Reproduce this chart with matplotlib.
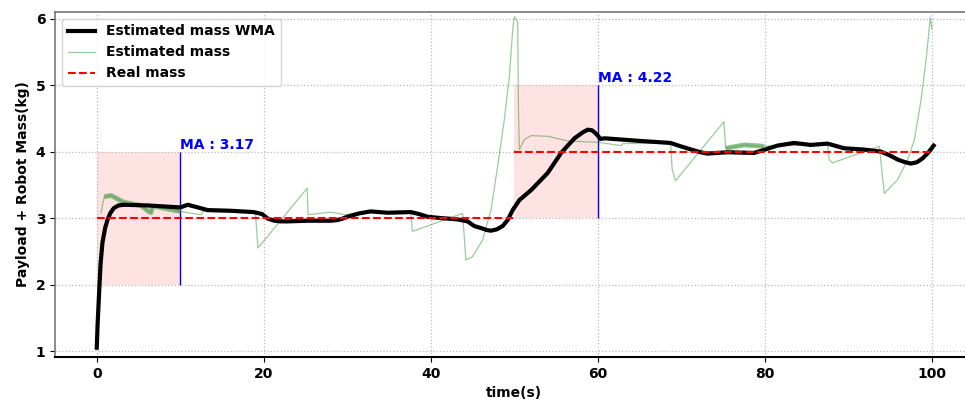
import numpy as np
import matplotlib
matplotlib.use("Agg")
import matplotlib.pyplot as plt

# weighted moving average of the estimate
wma_t = [0, 0.1, 0.28, 0.45, 0.68, 1.0, 1.28, 1.6, 2.04, 2.6, 3.23, 6.1, 10.0, 10.9, 13.3,
         16.0, 18.8, 19.8, 20.5, 21.3, 22.0, 22.9, 25.2, 28.0, 28.8, 29.4, 30.0, 31.4,
         32.8, 34.8, 37.6, 38.6, 39.6, 41.2, 43.2, 44.4, 45.2, 46.0, 46.7, 47.2, 47.9,
         48.6, 49.2, 49.8, 50.6, 52.0, 54.0, 55.6, 57.2, 58.2, 58.8, 59.3, 59.6, 60.0,
         60.3, 60.8, 65.1, 68.7, 69.9, 71.2, 72.3, 73.1, 75.5, 78.7, 80.0, 81.5, 83.5,
         85.5, 87.5, 89.5, 91.9, 93.9, 95.0, 95.9, 96.8, 97.5, 98.2, 98.9, 99.6, 100.2]
wma_m = [1.05, 1.4, 1.87, 2.3, 2.63, 2.85, 2.97, 3.07, 3.15, 3.19, 3.20, 3.19, 3.16, 3.20, 3.12,
         3.11, 3.09, 3.06, 2.99, 2.96, 2.95, 2.95, 2.96, 2.96, 2.97, 2.99, 3.02, 3.07,
         3.10, 3.08, 3.09, 3.06, 3.02, 3.00, 2.98, 2.95, 2.88, 2.85, 2.82, 2.81, 2.83,
         2.88, 2.97, 3.12, 3.27, 3.42, 3.68, 3.98, 4.20, 4.29, 4.33, 4.32, 4.29, 4.24,
         4.19, 4.20, 4.16, 4.13, 4.08, 4.03, 3.99, 3.97, 3.99, 3.98, 4.03, 4.09, 4.13,
         4.10, 4.12, 4.05, 4.03, 4.00, 3.94, 3.88, 3.84, 3.82, 3.84, 3.90, 3.99, 4.09]

# raw estimate
est_t = [0.5, 0.9, 1.7, 3.2, 5.3, 6.2, 6.5, 6.7, 10.0, 12.5, 12.7, 18.8, 19.0, 19.3,
         25.2, 25.3, 26.0, 28.0, 29.8, 32.4, 37.6, 37.8, 43.8, 44.2, 45.0, 46.2, 47.2,
         48.0, 48.8, 49.4, 49.8, 50.0, 50.4, 50.5, 50.6, 51.2, 52.0, 54.0, 56.4, 60.0,
         62.8, 63.0, 68.7, 68.9, 69.3, 75.1, 75.3, 77.5, 79.9, 81.5, 87.5, 87.7, 88.1,
         93.7, 94.3, 95.9, 97.1, 97.9, 98.7, 99.3, 99.7, 99.8, 100.0]
est_m = [3.08, 3.32, 3.34, 3.24, 3.19, 3.10, 3.08, 3.18, 3.10, 3.05, 3.10, 3.09, 3.08, 2.55,
         3.45, 3.05, 3.06, 3.09, 3.05, 3.10, 3.09, 2.80, 3.07, 2.37, 2.42, 2.67, 3.12,
         3.78, 4.48, 5.13, 5.83, 6.03, 5.95, 4.60, 4.03, 4.18, 4.24, 4.23, 4.16, 4.14,
         4.09, 4.12, 4.13, 3.73, 3.56, 4.45, 4.05, 4.10, 4.08, 4.09, 4.10, 3.88, 3.83,
         4.08, 3.37, 3.58, 3.88, 4.18, 4.78, 5.38, 5.88, 6.02, 5.85]

# real payload steps
real_t = [[0, 50], [50, 100]]
real_m = [[3, 3], [4, 4]]

# averaging windows and their results
win_t = [(0, 10), (50, 60)]
win_m = [(2, 4), (3, 5)]
ma_vals = [3.17, 4.22]

fig = plt.figure(figsize=(9.65, 4.0), dpi=100)
ax = fig.add_axes([0.057, 0.1075, 0.952, 0.8625])

for (t0, t1), (m0, m1), v in zip(win_t, win_m, ma_vals):
    ax.fill_between([t0, t1], m0, m1, color='red', alpha=0.11, linewidth=0)
    ax.vlines(t1, m0, m1, color='blue', linewidth=1)
    ax.text(t1, m1, 'MA : %.2f' % v, color='blue', fontsize=10, fontweight='bold',
            ha='left', va='bottom')

et = np.array(est_t)
em = np.array(est_m)
ax.plot(et, em, color='green', alpha=0.4, linewidth=0.9, label='Estimated mass')
# noisy parts of the estimate show up as a thick band
band = np.where(((et > 0.8) & (et < 10.1)) | ((et > 75.2) & (et < 80.0)), em, np.nan)
ax.plot(et, band, color='#4f9f4f', alpha=0.65, linewidth=3.5, solid_capstyle='butt')

ax.plot(wma_t, wma_m, color='black', linewidth=3, solid_joinstyle='round',
        label='Estimated mass WMA')
for i in range(len(real_t)):
    ax.plot(real_t[i], real_m[i], 'r--', linewidth=1.5,
            label='Real mass' if i == 0 else None)

ax.set_xlim(-5, 105)
ax.set_ylim(0.91, 6.1)
ax.set_xticks([0, 20, 40, 60, 80, 100])
ax.set_yticks([1, 2, 3, 4, 5, 6])
ax.grid(True, linestyle=':', color='#bbbbbb', linewidth=0.9)
for lab in ax.get_xticklabels() + ax.get_yticklabels():
    lab.set_fontweight('bold')
    lab.set_fontsize(10)
ax.set_xlabel('time(s)', fontsize=10, fontweight='bold')
ax.set_ylabel('Payload + Robot Mass(kg)', fontsize=10, fontweight='bold')

for s in ['top', 'right', 'left']:
    ax.spines[s].set_color('#777777')
    ax.spines[s].set_linewidth(1.2)
ax.spines['bottom'].set_color('black')
ax.spines['bottom'].set_linewidth(1.5)

h, l = ax.get_legend_handles_labels()
order = [l.index('Estimated mass WMA'), l.index('Estimated mass'), l.index('Real mass')]
ax.legend([h[i] for i in order], [l[i] for i in order], loc='upper left',
          prop={'weight': 'bold', 'size': 10})

fig.savefig('out.png', dpi=100)
